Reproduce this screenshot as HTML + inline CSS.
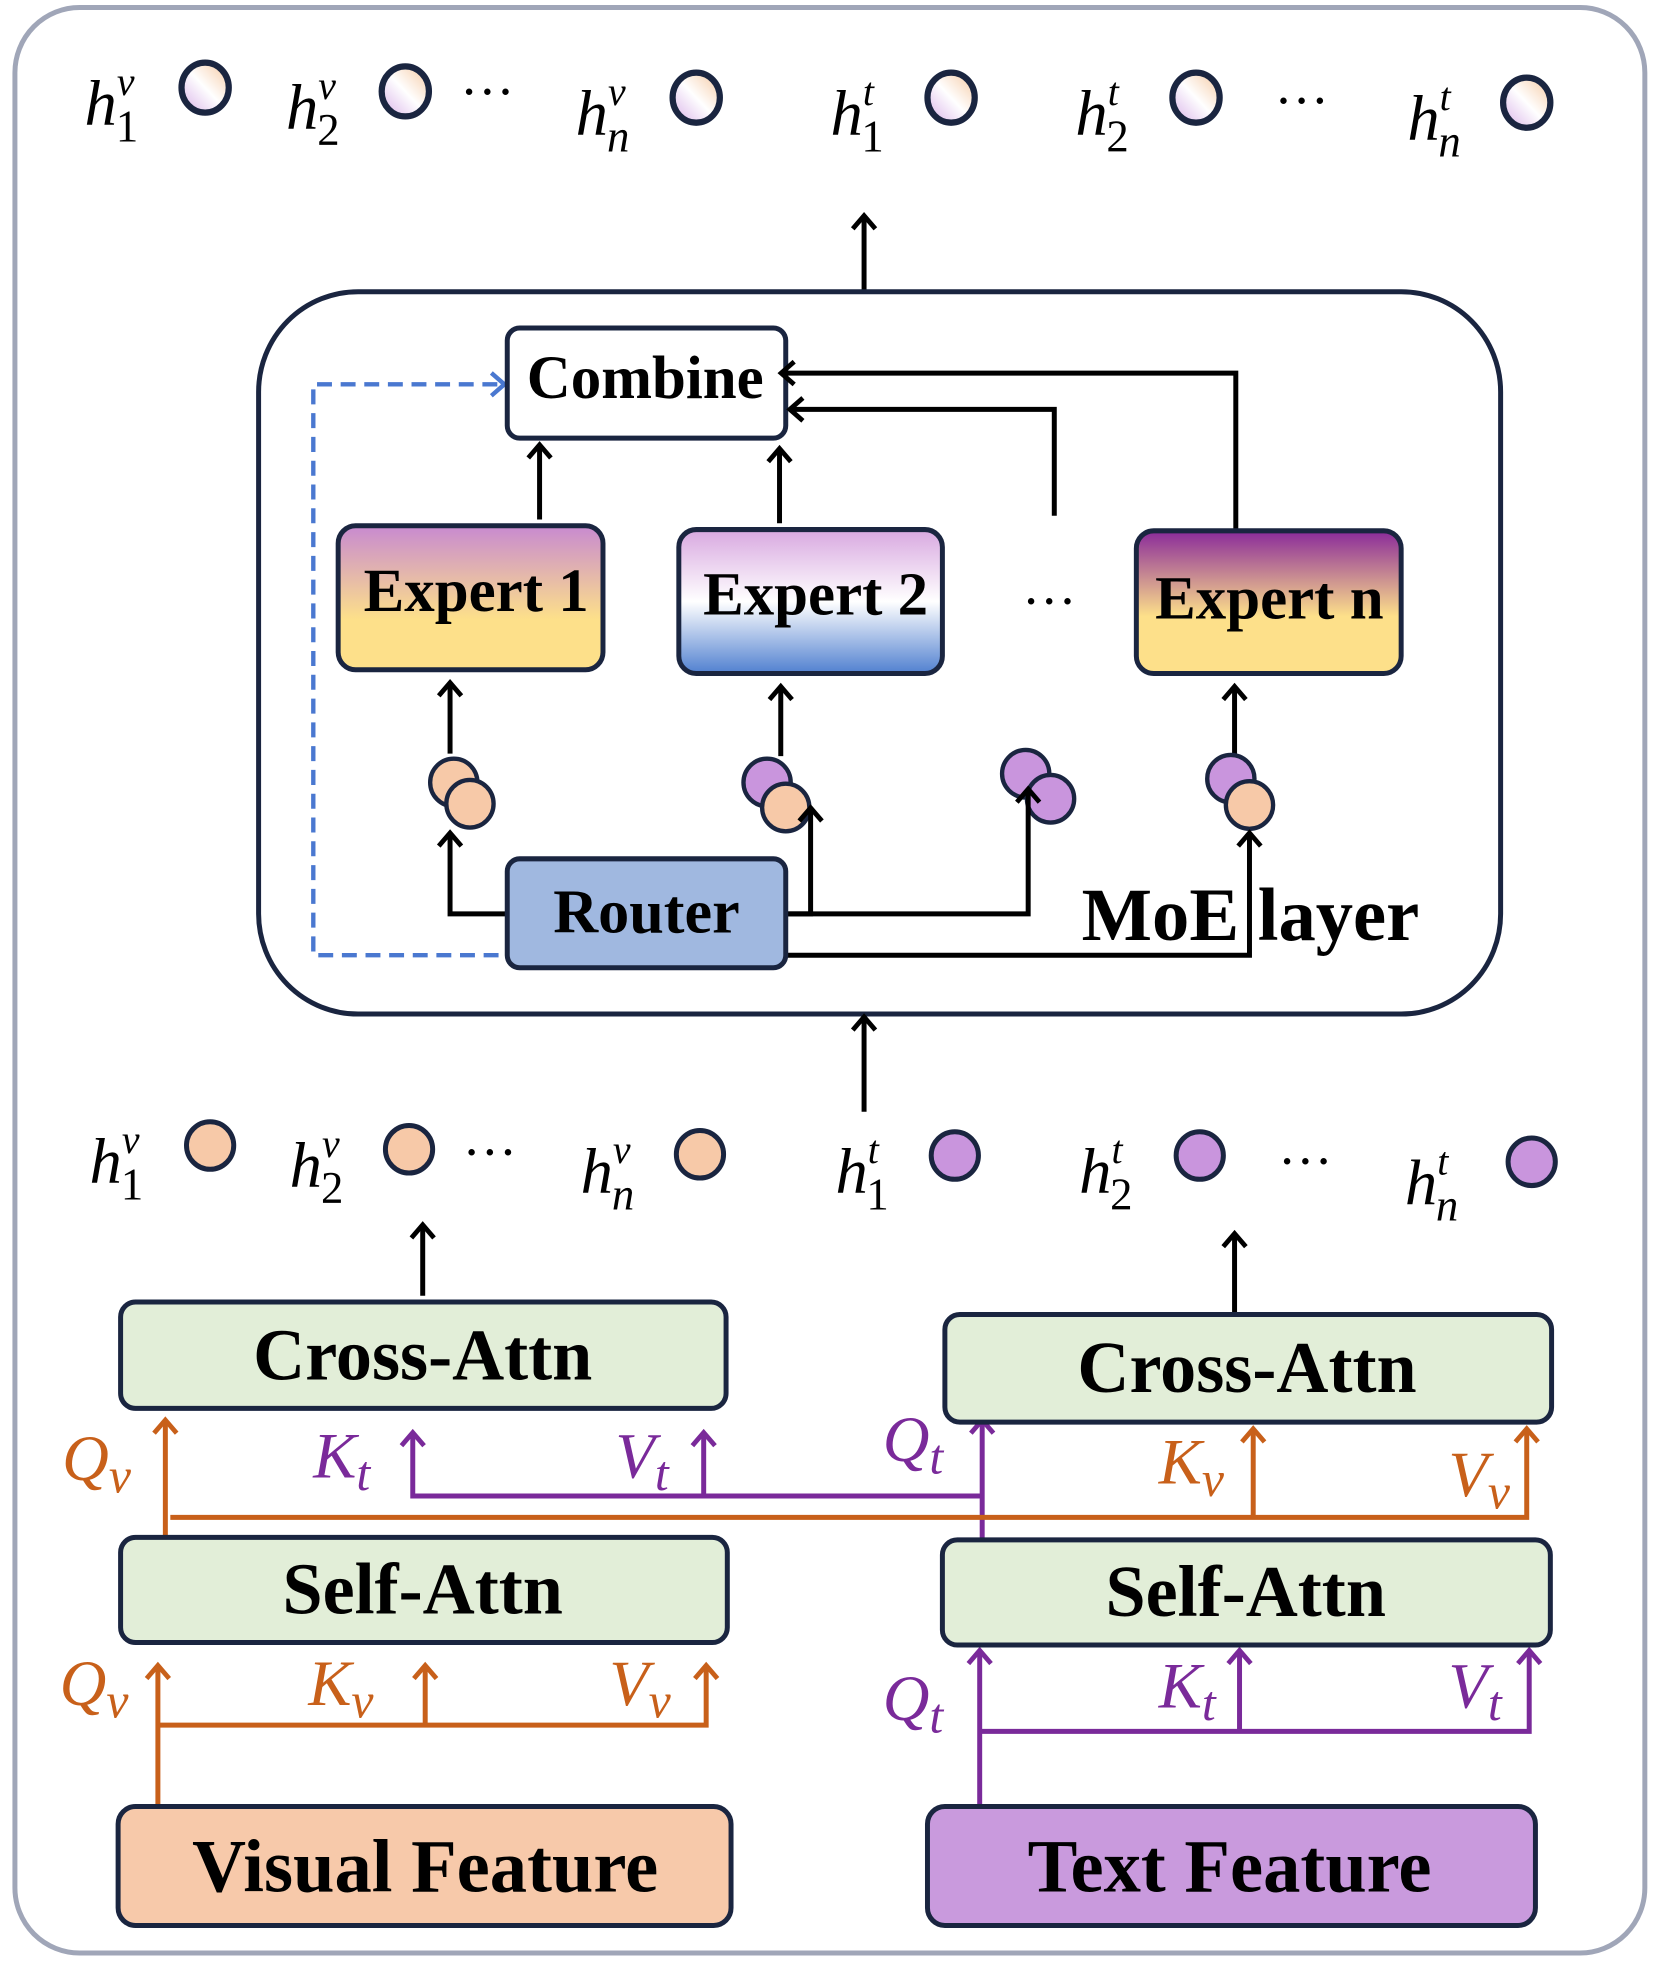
<!DOCTYPE html>
<html><head><meta charset="utf-8"><style>
html,body{margin:0;padding:0;background:#fff;}
svg{display:block;}
.m{font-family:"Liberation Serif",serif;font-style:italic;font-size:52px;}
.b{font-family:"Liberation Serif",serif;font-weight:bold;}
</style></head><body>
<svg width="1661" height="1963" viewBox="0 0 1336 1568" preserveAspectRatio="none" xmlns="http://www.w3.org/2000/svg">
<defs>
<marker id="ak" viewBox="0 0 10 10" refX="9" refY="5" markerWidth="7" markerHeight="7" orient="auto" markerUnits="userSpaceOnUse" style="overflow:visible"><path d="M-5,-8 L10,5 L-5,18" fill="none" stroke="#000" stroke-width="5.5"/></marker>
<marker id="ao" viewBox="0 0 10 10" refX="9" refY="5" markerWidth="7" markerHeight="7" orient="auto" markerUnits="userSpaceOnUse" style="overflow:visible"><path d="M-5,-8 L10,5 L-5,18" fill="none" stroke="#c8601a" stroke-width="5.5"/></marker>
<marker id="ap" viewBox="0 0 10 10" refX="9" refY="5" markerWidth="7" markerHeight="7" orient="auto" markerUnits="userSpaceOnUse" style="overflow:visible"><path d="M-5,-8 L10,5 L-5,18" fill="none" stroke="#7a2a9a" stroke-width="5.5"/></marker>
<marker id="ab" viewBox="0 0 10 10" refX="9" refY="5" markerWidth="7" markerHeight="7" orient="auto" markerUnits="userSpaceOnUse" style="overflow:visible"><path d="M-5,-8 L10,5 L-5,18" fill="none" stroke="#4a78d0" stroke-width="5"/></marker>
<linearGradient id="gc" x1="0" y1="1" x2="1" y2="0"><stop offset="0" stop-color="#d8b0e8"/><stop offset="0.5" stop-color="#fff"/><stop offset="1" stop-color="#f5c8a0"/></linearGradient>
<linearGradient id="e1" x1="0" y1="0" x2="0" y2="1"><stop offset="0" stop-color="#c88ad0"/><stop offset="0.65" stop-color="#fde08a"/><stop offset="1" stop-color="#fde08a"/></linearGradient>
<linearGradient id="e2" x1="0" y1="0" x2="0" y2="1"><stop offset="0" stop-color="#d8a8e0"/><stop offset="0.5" stop-color="#fff"/><stop offset="1" stop-color="#5080d0"/></linearGradient>
<linearGradient id="en" x1="0" y1="0" x2="0" y2="1"><stop offset="0" stop-color="#8a2a9a"/><stop offset="0.6" stop-color="#fde08a"/><stop offset="1" stop-color="#fde08a"/></linearGradient>
</defs>
<rect x="12" y="6" width="1311" height="1554" rx="52" fill="#fff" stroke="#a0a6b8" stroke-width="4"/>

<g stroke="#1a2540" stroke-width="5" fill="url(#gc)">
<ellipse cx="165" cy="70" rx="19" ry="20"/><ellipse cx="326" cy="73" rx="19" ry="20"/><ellipse cx="560" cy="78" rx="19" ry="20"/>
<ellipse cx="765" cy="78" rx="19" ry="20"/><ellipse cx="962" cy="78" rx="19" ry="20"/><ellipse cx="1228" cy="82" rx="19" ry="20"/>
</g>
<g class="m">
<text x="68" y="100">h<tspan dy="-24" font-size="32">v</tspan><tspan dx="-15" dy="37" font-size="36" font-style="normal">1</tspan></text>
<text x="230" y="103">h<tspan dy="-24" font-size="32">v</tspan><tspan dx="-15" dy="37" font-size="36" font-style="normal">2</tspan></text>
<text x="463" y="108">h<tspan dy="-24" font-size="32">v</tspan><tspan dx="-15" dy="37" font-size="36">n</tspan></text>
<text x="668" y="108">h<tspan dy="-24" font-size="32">t</tspan><tspan dx="-10" dy="37" font-size="36" font-style="normal">1</tspan></text>
<text x="865" y="108">h<tspan dy="-24" font-size="32">t</tspan><tspan dx="-10" dy="37" font-size="36" font-style="normal">2</tspan></text>
<text x="1132" y="112">h<tspan dy="-24" font-size="32">t</tspan><tspan dx="-10" dy="37" font-size="36">n</tspan></text>
</g>
<text x="370" y="88" font-size="44" font-family="Liberation Serif">···</text>
<text x="1025" y="95" font-size="44" font-family="Liberation Serif">···</text>

<line x1="695" y1="235" x2="695" y2="173" stroke="#000" stroke-width="4" marker-end="url(#ak)"/>

<rect x="208" y="233" width="999" height="577" rx="80" fill="#fff" stroke="#1a2540" stroke-width="4"/>
<path d="M420,763 H252 V307 H405" fill="none" stroke="#4a78d0" stroke-width="3.5" stroke-dasharray="12,7" marker-end="url(#ab)"/>
<rect x="408" y="262" width="224" height="88" rx="10" fill="#fff" stroke="#1a2540" stroke-width="4"/>
<text x="519" y="318" text-anchor="middle" class="b" font-size="49">Combine</text>
<g stroke="#000" stroke-width="4" fill="none">
<line x1="434" y1="415" x2="434" y2="356" marker-end="url(#ak)"/>
<line x1="627" y1="418" x2="627" y2="359" marker-end="url(#ak)"/>
<path d="M848,412 V327 H636" marker-end="url(#ak)"/>
<path d="M994,428 V298 H629" marker-end="url(#ak)"/>
<line x1="362" y1="602" x2="362" y2="546" marker-end="url(#ak)"/>
<line x1="628" y1="604" x2="628" y2="549" marker-end="url(#ak)"/>
<line x1="993" y1="607" x2="993" y2="549" marker-end="url(#ak)"/>
</g>
<rect x="272" y="420" width="213" height="115" rx="14" fill="url(#e1)" stroke="#1a2540" stroke-width="4"/>
<rect x="546" y="423" width="212" height="115" rx="14" fill="url(#e2)" stroke="#1a2540" stroke-width="4"/>
<rect x="914" y="424" width="213" height="114" rx="14" fill="url(#en)" stroke="#1a2540" stroke-width="4"/>
<text x="383" y="488" text-anchor="middle" class="b" font-size="49">Expert 1</text>
<text x="656" y="491" text-anchor="middle" class="b" font-size="49">Expert 2</text>
<text x="1021" y="494" text-anchor="middle" class="b" font-size="49">Expert n</text>
<text x="822" y="495" font-size="44" font-family="Liberation Serif">···</text>

<g stroke="#1a2540" stroke-width="3.5">
<circle cx="365" cy="625" r="19" fill="#f7c9a8"/><circle cx="378" cy="642" r="19" fill="#f7c9a8"/>
<circle cx="617" cy="625" r="19" fill="#c995dd"/><circle cx="632" cy="645" r="19" fill="#f7c9a8"/>
<circle cx="825" cy="618" r="19" fill="#c995dd"/><circle cx="845" cy="638" r="19" fill="#c995dd"/>
<circle cx="990" cy="622" r="19" fill="#c995dd"/><circle cx="1005" cy="643" r="19" fill="#f7c9a8"/>
</g>
<g stroke="#000" stroke-width="4" fill="none">
<path d="M410,730 H362 V666" marker-end="url(#ak)"/>
<path d="M632,730 H652 V646" marker-end="url(#ak)"/>
<path d="M632,730 H827 V631" marker-end="url(#ak)"/>
<path d="M632,763 H1005 V666" marker-end="url(#ak)"/>
</g>
<rect x="408" y="686" width="224" height="87" rx="10" fill="#a0b8e0" stroke="#1a2540" stroke-width="4"/>
<text x="520" y="745" text-anchor="middle" class="b" font-size="50">Router</text>
<text x="870" y="751" class="b" font-size="60">MoE layer</text>

<line x1="695" y1="888" x2="695" y2="813" stroke="#000" stroke-width="4" marker-end="url(#ak)"/>

<g stroke="#1a2540" stroke-width="4">
<circle cx="169" cy="915" r="19" fill="#f7c9a8"/><circle cx="329" cy="918" r="19" fill="#f7c9a8"/><circle cx="563" cy="922" r="19" fill="#f7c9a8"/>
<circle cx="768" cy="923" r="19" fill="#c995dd"/><circle cx="965" cy="923" r="19" fill="#c995dd"/><circle cx="1232" cy="928" r="19" fill="#c995dd"/>
</g>
<g class="m">
<text x="72" y="945">h<tspan dy="-24" font-size="32">v</tspan><tspan dx="-15" dy="37" font-size="36" font-style="normal">1</tspan></text>
<text x="233" y="948">h<tspan dy="-24" font-size="32">v</tspan><tspan dx="-15" dy="37" font-size="36" font-style="normal">2</tspan></text>
<text x="467" y="953">h<tspan dy="-24" font-size="32">v</tspan><tspan dx="-15" dy="37" font-size="36">n</tspan></text>
<text x="672" y="953">h<tspan dy="-24" font-size="32">t</tspan><tspan dx="-10" dy="37" font-size="36" font-style="normal">1</tspan></text>
<text x="868" y="953">h<tspan dy="-24" font-size="32">t</tspan><tspan dx="-10" dy="37" font-size="36" font-style="normal">2</tspan></text>
<text x="1130" y="962">h<tspan dy="-24" font-size="32">t</tspan><tspan dx="-10" dy="37" font-size="36">n</tspan></text>
</g>
<text x="372" y="935" font-size="44" font-family="Liberation Serif">···</text>
<text x="1028" y="942" font-size="44" font-family="Liberation Serif">···</text>
<line x1="340" y1="1035" x2="340" y2="979" stroke="#000" stroke-width="4" marker-end="url(#ak)"/>
<line x1="993" y1="1050" x2="993" y2="986" stroke="#000" stroke-width="4" marker-end="url(#ak)"/>

<g fill="none" stroke-width="4">
<path d="M127,1443 V1331" stroke="#c8601a" marker-end="url(#ao)"/>
<path d="M127,1378 H568 V1331" stroke="#c8601a" marker-end="url(#ao)"/>
<path d="M342,1378 V1331" stroke="#c8601a" marker-end="url(#ao)"/>
<path d="M788,1443 V1319" stroke="#7a2a9a" marker-end="url(#ap)"/>
<path d="M788,1383 H1230 V1319" stroke="#7a2a9a" marker-end="url(#ap)"/>
<path d="M997,1383 V1319" stroke="#7a2a9a" marker-end="url(#ap)"/>
<path d="M133,1228 V1135" stroke="#c8601a" marker-end="url(#ao)"/>
<path d="M790,1230 V1135" stroke="#7a2a9a" marker-end="url(#ap)"/>
<path d="M790,1195 H332 V1145" stroke="#7a2a9a" marker-end="url(#ap)"/>
<path d="M566,1195 V1145" stroke="#7a2a9a" marker-end="url(#ap)"/>
<path d="M137,1212 H1228 V1142" stroke="#c8601a" marker-end="url(#ao)"/>
<path d="M1008,1212 V1142" stroke="#c8601a" marker-end="url(#ao)"/>
</g>
<g class="m" font-size="54">
<g fill="#c8601a">
<text x="48" y="1362">Q<tspan dy="10" font-size="40">v</tspan></text>
<text x="248" y="1362">K<tspan dy="10" font-size="40">v</tspan></text>
<text x="490" y="1362">V<tspan dy="10" font-size="40">v</tspan></text>
<text x="50" y="1182">Q<tspan dy="10" font-size="40">v</tspan></text>
<text x="932" y="1185">K<tspan dy="10" font-size="40">v</tspan></text>
<text x="1165" y="1195">V<tspan dy="10" font-size="40">v</tspan></text>
</g>
<g fill="#7a2a9a">
<text x="710" y="1374">Q<tspan dy="10" font-size="40">t</tspan></text>
<text x="932" y="1364">K<tspan dy="10" font-size="40">t</tspan></text>
<text x="1165" y="1364">V<tspan dy="10" font-size="40">t</tspan></text>
<text x="710" y="1167">Q<tspan dy="10" font-size="40">t</tspan></text>
<text x="252" y="1180">K<tspan dy="10" font-size="40">t</tspan></text>
<text x="495" y="1180">V<tspan dy="10" font-size="40">t</tspan></text>
</g>
</g>

<g stroke="#1a2540" stroke-width="4">
<rect x="97" y="1040" width="487" height="85" rx="12" fill="#e2eed8"/>
<rect x="760" y="1050" width="488" height="86" rx="12" fill="#e2eed8"/>
<rect x="97" y="1228" width="488" height="84" rx="12" fill="#e2eed8"/>
<rect x="758" y="1230" width="489" height="84" rx="12" fill="#e2eed8"/>
<rect x="95" y="1443" width="493" height="95" rx="14" fill="#f7c9aa"/>
<rect x="746" y="1443" width="489" height="95" rx="14" fill="#c99add"/>
</g>
<g class="b" text-anchor="middle">
<text x="340" y="1102" font-size="58">Cross-Attn</text>
<text x="1003" y="1112" font-size="58">Cross-Attn</text>
<text x="340" y="1289" font-size="58">Self-Attn</text>
<text x="1002" y="1291" font-size="58">Self-Attn</text>
<text x="342" y="1511" font-size="60">Visual Feature</text>
<text x="989" y="1511" font-size="60">Text Feature</text>
</g>
</svg>
</body></html>
